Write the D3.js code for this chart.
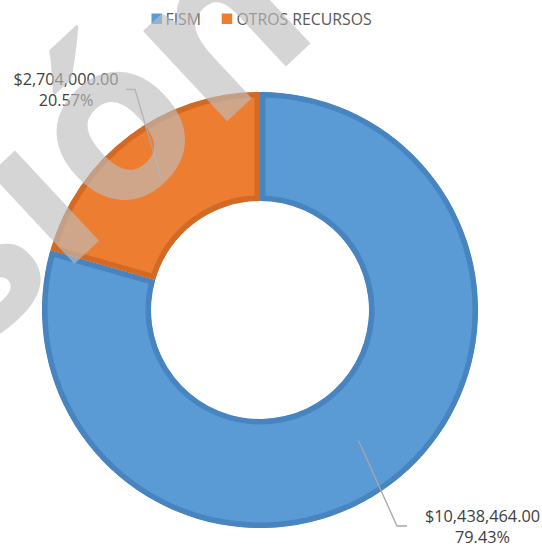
<!DOCTYPE html>
<html>
<head>
<meta charset="utf-8">
<script src="https://cdn.jsdelivr.net/npm/d3@7"></script>
<style>
  html, body { margin: 0; padding: 0; background: #fff; }
  svg { display: block; }
</style>
</head>
<body>
<div id="chart"></div>
<script>
// ---- data ----
const categories = ["FISM", "OTROS RECURSOS"];
const values = [10438464.00, 2704000.00];
const watermarkText = "sión";

// ---- styles ----
const fillColors = ["#5B9BD5", "#ED7D31"];
const borderColors = ["#4884BF", "#D26A25"];

const W = 542, H = 547;
const cx = 260, cy = 310, R = 218, r = 109;

const svg = d3.select("#chart").append("svg")
  .attr("width", W).attr("height", H)
  .style("font-family", "'Open Sans', sans-serif");

const data = categories.map((c, i) => ({ name: c, value: values[i], i }));
const total = d3.sum(values);
const pie = d3.pie().sort(null).value(d => d.value);
const arcs = pie(data);
const arc = d3.arc().innerRadius(r).outerRadius(R);

const g = svg.append("g").attr("transform", `translate(${cx},${cy})`);
const defs = svg.append("defs");

arcs.forEach((a, i) => {
  defs.append("clipPath").attr("id", "clip" + i)
    .append("path").attr("d", arc(a));
  g.append("path")
    .attr("d", arc(a))
    .attr("fill", fillColors[i])
    .attr("stroke", borderColors[i])
    .attr("stroke-width", 11)
    .attr("clip-path", `url(#clip${i})`);
});

// ---- data labels with leader lines ----
const money = v => "$" + d3.format(",.2f")(v);
const pct = d3.format(".2%");
const labelLayout = [
  { elbow: [397, 526], end: [407, 526], tx: 482.5, ty: 522, size: 16.3 },
  { elbow: [135, 89.5], end: [126, 89.5], tx: 66, ty: 85, size: 16.2 }
];
arcs.forEach((a, i) => {
  const c = arc.centroid(a);
  const L = labelLayout[i];
  const pts = [[c[0] + cx, c[1] + cy], L.elbow, L.end];
  svg.append("path")
    .attr("d", d3.line()(pts))
    .attr("fill", "none")
    .attr("stroke", "#A6A6A6")
    .attr("stroke-width", 1.3);
  const t = svg.append("text")
    .attr("text-anchor", "middle")
    .attr("fill", "#404040")
    .style("font-size", L.size + "px");
  t.append("tspan").attr("x", L.tx).attr("y", L.ty).text(money(a.data.value));
  t.append("tspan").attr("x", L.tx).attr("y", L.ty + 21).text(pct(a.data.value / total));
});

// ---- legend ----
const legendItems = [
  { sx: 151.5, tx: 165.5 },
  { sx: 221.7, tx: 236.5 }
];
categories.forEach((c, i) => {
  svg.append("rect")
    .attr("x", legendItems[i].sx).attr("y", 13.5)
    .attr("width", 10.5).attr("height", 10.5)
    .attr("fill", fillColors[i]);
  svg.append("text")
    .attr("x", legendItems[i].tx).attr("y", 25)
    .attr("fill", "#595959")
    .style("font-size", "15.8px")
    .text(c);
});

// ---- watermark (rotated, placed so that the "ó" bowl sits where it is in the reference) ----
const wmSize = 226, wmAngle = -43, wmTarget = [121, 136];
const wm = svg.append("text")
  .attr("x", 0).attr("y", 0)
  .attr("fill", "#BEBEBE")
  .attr("opacity", 0.63)
  .style("font-size", wmSize + "px")
  .style("font-weight", 700)
  .text(watermarkText);
const ext = wm.node().getExtentOfChar(2);
const p = [ext.x + ext.width / 2, -0.545 * wmSize / 2];
const th = wmAngle * Math.PI / 180;
const rp = [p[0] * Math.cos(th) - p[1] * Math.sin(th), p[0] * Math.sin(th) + p[1] * Math.cos(th)];
wm.attr("transform", `translate(${wmTarget[0] - rp[0]},${wmTarget[1] - rp[1]}) rotate(${wmAngle})`);
</script>
</body>
</html>
